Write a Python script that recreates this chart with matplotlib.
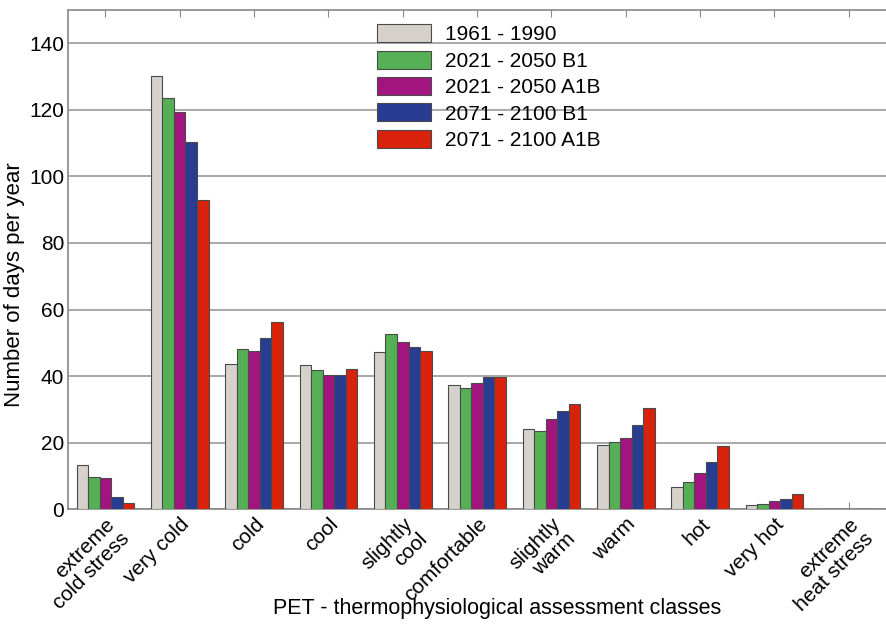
import matplotlib.pyplot as plt
import numpy as np

plt.rcParams['font.family'] = ['Liberation Sans', 'DejaVu Sans']

# Data
classes = ['extreme\ncold stress', 'very cold', 'cold', 'cool', 'slightly\ncool',
           'comfortable', 'slightly\nwarm', 'warm', 'hot', 'very hot',
           'extreme\nheat stress']
periods = ['1961 - 1990', '2021 - 2050 B1', '2021 - 2050 A1B',
           '2071 - 2100 B1', '2071 - 2100 A1B']
ref_1961 = [13.2, 130.1, 43.6, 43.3, 47.2, 37.3, 24.1, 19.2, 6.8, 1.2, 0.2]
b1_2021 = [9.8, 123.5, 48.2, 41.8, 52.7, 36.4, 23.6, 20.3, 8.3, 1.6, 0.2]
a1b_2021 = [9.4, 119.4, 47.4, 40.4, 50.2, 37.9, 27.2, 21.3, 10.8, 2.4, 0.2]
b1_2071 = [3.8, 110.2, 51.3, 40.3, 48.6, 39.7, 29.4, 25.2, 14.2, 3.0, 0.2]
a1b_2071 = [1.8, 93.0, 56.1, 42.2, 47.4, 39.7, 31.7, 30.5, 19.0, 4.7, 0.2]
series = [ref_1961, b1_2021, a1b_2021, b1_2071, a1b_2071]
colors = ['#d6d2cb', '#55b055', '#a3157e', '#283d92', '#d9220c']

fig = plt.figure(figsize=(8.86, 6.24), dpi=100)
ax = fig.add_axes([0.077, 0.184, 0.923, 0.8])

x = np.arange(len(classes))
width = 0.155
for i, (vals, col, lab) in enumerate(zip(series, colors, periods)):
    ax.bar(x + (i - 2) * width, vals, width, color=col, edgecolor='#4a4a4a',
           linewidth=0.8, label=lab, zorder=3)

# Axes styling
ax.set_xlim(-0.5, 10.5)
ax.set_ylim(0, 150)
ax.set_yticks(range(0, 141, 20))
ax.yaxis.grid(True, color='#999999', linewidth=1.2, zorder=0)
ax.tick_params(axis='y', length=0, labelsize=15, pad=3)
ax.set_xticks(x)
ax.set_xticklabels(classes, rotation=45, ha='right', rotation_mode='anchor',
                   fontsize=15, linespacing=1.1)
ax.tick_params(axis='x', direction='in', length=5, top=True, color='#888888',
               pad=4)
for side in ['left', 'top', 'bottom']:
    ax.spines[side].set_color('#888888')
    ax.spines[side].set_linewidth(1.2)
ax.spines['right'].set_visible(False)

ax.set_ylabel('Number of days per year', fontsize=16)
ax.yaxis.set_label_coords(-0.053, 0.449)
ax.set_xlabel('PET - thermophysiological assessment classes', fontsize=15.5)
ax.xaxis.set_label_coords(0.524, -0.178)

leg = ax.legend(loc='upper left', bbox_to_anchor=(0.368, 0.988), frameon=False,
                fontsize=15, handlelength=2.55, handleheight=0.95,
                labelspacing=0.3, handletextpad=0.67, borderaxespad=0)

plt.savefig('out.png', dpi=100)
